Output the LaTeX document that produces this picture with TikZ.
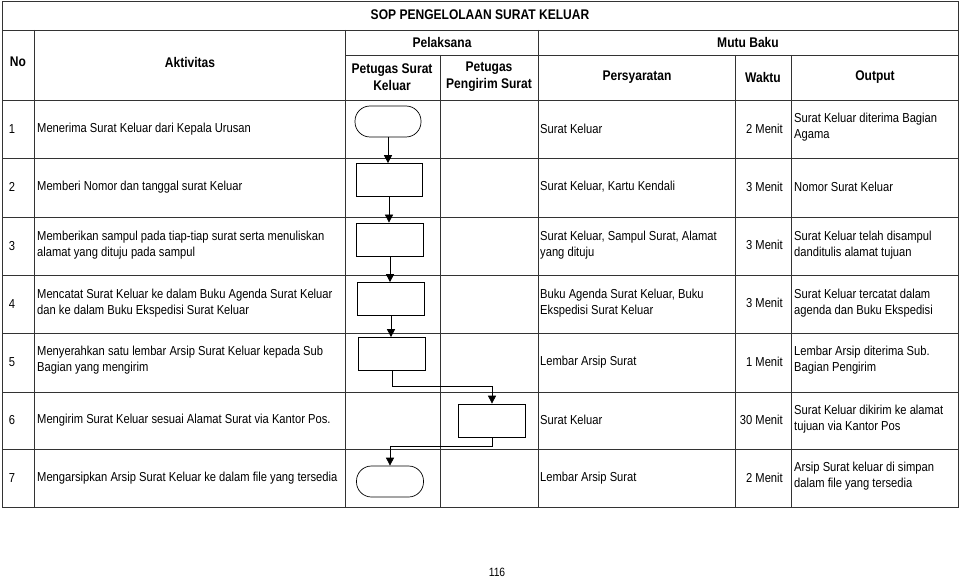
\documentclass[tikz,border=0pt]{standalone}
\usepackage{fontspec}
\setmainfont[FakeStretch=0.86]{Liberation Sans}
\usetikzlibrary{arrows.meta}
\begin{document}
\begin{tikzpicture}[x=1pt,y=-1pt,font=\fontsize{13}{16}\selectfont,
  grid/.style={draw=black!80,line width=0.9pt},
  term/.style={draw,rounded corners=15pt,line width=0.7pt},
  proc/.style={draw,line width=0.7pt},
  flow/.style={-{Triangle[length=8pt,width=8pt]},line width=0.7pt},
  tx/.style={anchor=west,align=left,inner sep=0pt},
  hd/.style={align=center,inner sep=0pt,font=\fontsize{14}{17}\selectfont\bfseries}]
\useasboundingbox (0,0) rectangle (960,577);
% grid
\draw[grid] (2,1) rectangle (958,507);
\draw[grid] (2,30) -- (958,30);
\draw[grid] (345,55) -- (958,55);
\foreach \y in {100,158,217,275,333,392,449} \draw[grid] (2,\y) -- (958,\y);
\draw[grid] (34,30) -- (34,507);
\draw[grid] (345,30) -- (345,507);
\draw[grid] (538,30) -- (538,507);
\draw[grid] (440,55) -- (440,507);
\draw[grid] (735,55) -- (735,507);
\draw[grid] (791,55) -- (791,507);
% headers
\node[hd] (t) at (480,15) {SOP PENGELOLAAN SURAT KELUAR};
\node[hd] (hno) at (18,62) {No};
\node[hd] (hak) at (190,62) {Aktivitas};
\node[hd] (hpl) at (442,42) {Pelaksana};
\node[hd] (hmb) at (748,42) {Mutu Baku};
\node[hd] (hp1) at (392,77) {Petugas Surat\\Keluar};
\node[hd] (hp2) at (489,77) {Petugas\\Pengirim Surat};
\node[hd] (hps) at (637,77) {Persyaratan};
\node[hd] (hwk) at (763,77) {Waktu};
\node[hd] (hou) at (875,77) {Output};
% rows
\foreach \n/\y in {1/129,2/187,3/246,4/304,5/362,6/420,7/478}
  \node[inner sep=0pt] (no\n) at (12,\y) {\n};
\node[tx] (a1) at (37,129) {Menerima Surat Keluar dari Kepala Urusan};
\node[tx] (a2) at (37,187) {Memberi Nomor dan tanggal surat Keluar};
\node[tx] (a3) at (37,245) {Memberikan sampul pada tiap-tiap surat serta menuliskan\\alamat yang dituju pada sampul};
\node[tx] (a4) at (37,303) {Mencatat Surat Keluar ke dalam Buku Agenda Surat Keluar\\dan ke dalam Buku Ekspedisi Surat Keluar};
\node[tx] (a5) at (37,360) {Menyerahkan satu lembar Arsip Surat Keluar kepada Sub\\Bagian yang mengirim};
\node[tx] (a6) at (37,420) {Mengirim Surat Keluar sesuai Alamat Surat via Kantor Pos.};
\node[tx] (a7) at (37,478) {Mengarsipkan Arsip Surat Keluar ke dalam file yang tersedia};
\node[tx] (p1) at (540,129) {Surat Keluar};
\node[tx] (p2) at (540,187) {Surat Keluar, Kartu Kendali};
\node[tx] (p3) at (540,245) {Surat Keluar, Sampul Surat, Alamat\\yang dituju};
\node[tx] (p4) at (540,303) {Buku Agenda Surat Keluar, Buku\\Ekspedisi Surat Keluar};
\node[tx] (p5) at (540,362) {Lembar Arsip Surat};
\node[tx] (p6) at (540,420) {Surat Keluar};
\node[tx] (p7) at (540,478) {Lembar Arsip Surat};
\foreach \n/\t/\y in {1/2 Menit/129,2/3 Menit/187,3/3 Menit/245,4/3 Menit/303,5/1 Menit/362,6/30 Menit/420,7/2 Menit/478}
  \node[anchor=east,inner sep=0pt] (w\n) at (783,\y) {\t};
\node[tx] (o1) at (794,127) {Surat Keluar diterima Bagian\\Agama};
\node[tx] (o2) at (794,187) {Nomor Surat Keluar};
\node[tx] (o3) at (794,245) {Surat Keluar telah disampul\\danditulis alamat tujuan};
\node[tx] (o4) at (794,303) {Surat Keluar tercatat dalam\\agenda dan Buku Ekspedisi};
\node[tx] (o5) at (794,360) {Lembar Arsip diterima Sub.\\Bagian Pengirim};
\node[tx] (o6) at (794,419) {Surat Keluar dikirim ke alamat\\tujuan via Kantor Pos};
\node[tx] (o7) at (794,476) {Arsip Surat keluar di simpan\\dalam file yang tersedia};
% flowchart
\node[term,minimum width=66pt,minimum height=31pt] (f1) at (388,121.5) {};
\node[proc,minimum width=66pt,minimum height=33pt] (f2) at (389,180) {};
\node[proc,minimum width=67pt,minimum height=33pt] (f3) at (390,239.5) {};
\node[proc,minimum width=67pt,minimum height=33pt] (f4) at (391,299) {};
\node[proc,minimum width=67pt,minimum height=33pt] (f5) at (392,354) {};
\node[proc,minimum width=67pt,minimum height=33pt] (f6) at (492,420.5) {};
\node[term,minimum width=67pt,minimum height=31pt] (f7) at (390,481.5) {};
\draw[flow] (f1.south) -- (f2.north-|f1.south);
\draw[flow] (f2.south) -- (f3.north-|f2.south);
\draw[flow] (f3.south) -- (f4.north-|f3.south);
\draw[flow] (f4.south) -- (f5.north-|f4.south);
\draw[flow] (f5.south) -- ++(0,15) -| (f6.north);
\draw[flow] (f6.south) -- ++(0,9) -| (f7.north);
\node[inner sep=0pt,font=\fontsize{12}{14}\selectfont] (pg) at (497,572) {116};
\end{tikzpicture}
\end{document}
